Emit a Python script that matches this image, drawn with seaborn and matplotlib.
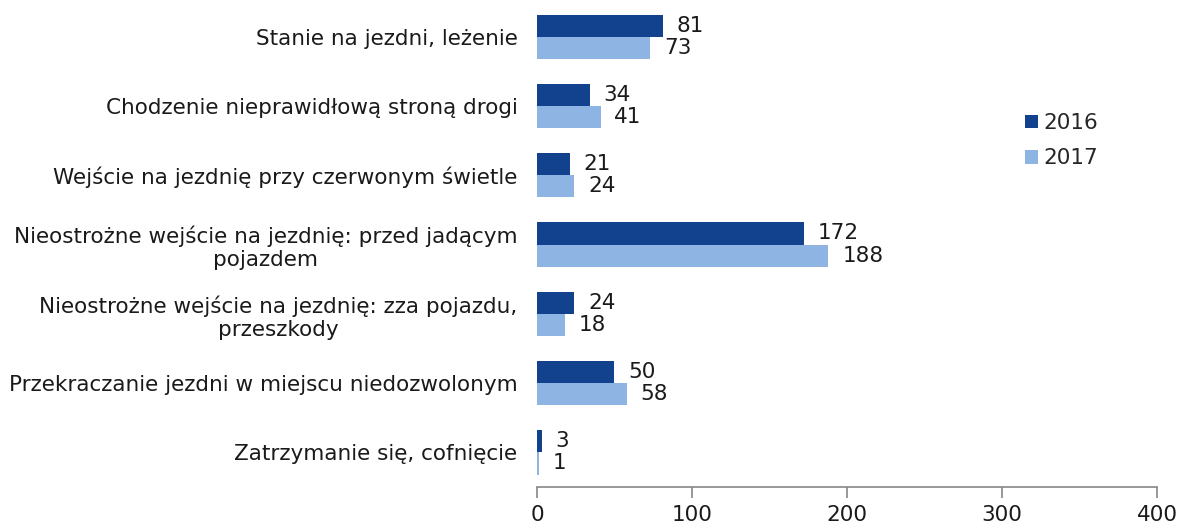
import matplotlib
matplotlib.use("Agg")
import matplotlib.pyplot as plt
import seaborn as sns
import pandas as pd

categories = [
    "Stanie na jezdni, leżenie",
    "Chodzenie nieprawidłową stroną drogi",
    "Wejście na jezdnię przy czerwonym świetle",
    "Nieostrożne wejście na jezdnię: przed jadącym\npojazdem",
    "Nieostrożne wejście na jezdnię: zza pojazdu,\nprzeszkody",
    "Przekraczanie jezdni w miejscu niedozwolonym",
    "Zatrzymanie się, cofnięcie",
]
values_2016 = [81, 34, 21, 172, 24, 50, 3]
values_2017 = [73, 41, 24, 188, 18, 58, 1]
years = ["2016", "2017"]
colors = ["#12418e", "#8db4e2"]

df = pd.DataFrame({
    "kategoria": categories * 2,
    "rok": [years[0]] * len(categories) + [years[1]] * len(categories),
    "liczba": values_2016 + values_2017,
})

sns.set_style("white")
plt.rcParams["font.family"] = ["DejaVu Sans"]
fs = 15.5

fig = plt.figure(figsize=(11.82, 5.25), dpi=100)
ax = fig.add_axes([0.4543, 0.0724, 0.5246, 0.9236])

sns.barplot(data=df, y="kategoria", x="liczba", hue="rok", order=categories,
            hue_order=years, palette=colors, orient="h", width=0.64,
            saturation=1, linewidth=0, ax=ax)

for cont in ax.containers:
    ax.bar_label(cont, padding=10, fontsize=fs, color="#1a1a1a")

ax.set_xlim(0, 400)
ax.set_xticks([0, 100, 200, 300, 400])
ax.set_ylim(len(categories) - 0.5, -0.5)
ax.set_xlabel("")
ax.set_ylabel("")

for s in ["top", "right", "left"]:
    ax.spines[s].set_visible(False)
ax.spines["bottom"].set_color("#868686")
ax.spines["bottom"].set_linewidth(1.2)
ax.tick_params(axis="x", length=8, width=1.2, color="#868686", labelsize=fs,
               pad=5, labelcolor="#1a1a1a", direction="out", bottom=True)
ax.tick_params(axis="y", length=0, labelsize=fs, pad=14, labelcolor="#1a1a1a")
for lab in ax.get_yticklabels():
    lab.set_multialignment("center")

ax.legend(loc="upper left", bbox_to_anchor=(1025 / 1182, 1 - 113 / 525),
          bbox_transform=fig.transFigure, frameon=False, fontsize=fs,
          handlelength=0.6, handleheight=0.6, handletextpad=0.25,
          labelspacing=0.72, borderaxespad=0, borderpad=0)

fig.savefig("out.png", dpi=100)
